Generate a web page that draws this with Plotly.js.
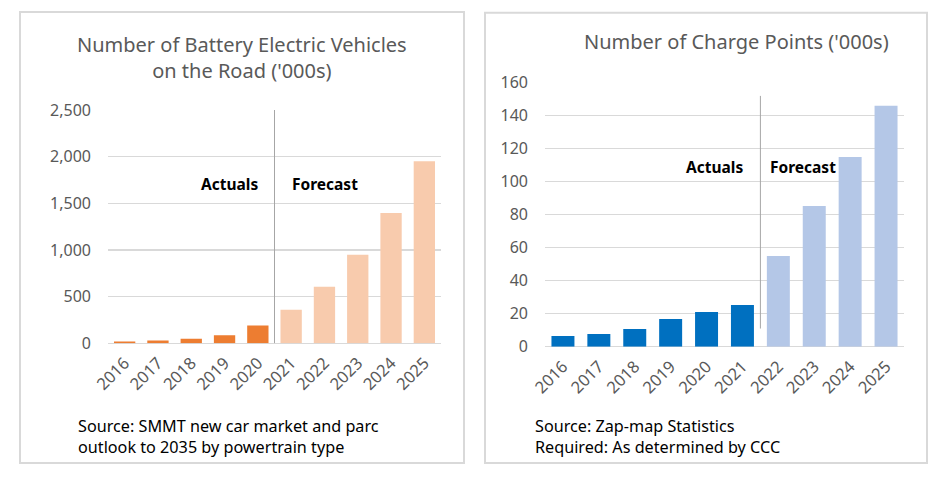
<!DOCTYPE html>
<html>
<head>
<meta charset="utf-8">
<script src="https://cdn.plot.ly/plotly-3.0.1.min.js"></script>
<style>
html,body{margin:0;padding:0;background:#fff;}
#chart{width:949px;height:478px;}
</style>
</head>
<body>
<div id="chart"></div>
<script>
// ---- Data ----
const years = ['2016','2017','2018','2019','2020','2021','2022','2023','2024','2025'];
const bevValues = [20, 30, 50, 85, 190, 360, 605, 950, 1395, 1950];
const bevActualCount = 5;   // 2016-2020 actuals, rest forecast
const chargeValues = [6.5, 7.7, 10.8, 16.8, 21, 25.3, 55, 85.3, 115, 146];
const chargeActualCount = 6; // 2016-2021 actuals, rest forecast
const bevTicks = [0, 500, 1000, 1500, 2000, 2500];
const chargeTicks = [0, 20, 40, 60, 80, 100, 120, 140, 160];

const W = 949, H = 478;
const px = x => x / W;
const py = y => 1 - y / H;

const FONT = '"Noto Sans", "Open Sans", sans-serif';
const GRAY = '#595959';
const GRID = '#d9d9d9';

const bevColors = years.map((_, i) => i < bevActualCount ? '#ED7D31' : '#F8CBAD');
const chargeColors = years.map((_, i) => i < chargeActualCount ? '#0070C0' : '#B4C7E7');

const traces = [
  {type:'bar', x: years, y: bevValues, xaxis:'x', yaxis:'y',
   marker:{color: bevColors, line:{width:0}}, hoverinfo:'x+y'},
  {type:'bar', x: years, y: chargeValues, xaxis:'x2', yaxis:'y2',
   marker:{color: chargeColors, line:{width:0}}, hoverinfo:'x+y'}
];

const axisFont = {family: FONT, size: 16.5, color: GRAY};

const layout = {
  width: W, height: H,
  margin:{l:0, r:0, t:0, b:0},
  paper_bgcolor:'#fff', plot_bgcolor:'rgba(0,0,0,0)',
  showlegend:false,
  bargap: 0.36,
  font:{family: FONT, color: GRAY},
  xaxis:{domain:[px(108), px(441)], type:'category', tickangle:-45,
         tickfont: axisFont, showgrid:false, zeroline:false, showline:false,
         ticks:'', ticklabelstandoff: 6, fixedrange:true, anchor:'y'},
  yaxis:{domain:[py(343.3), py(110)], range:[0, 2500], tickvals: bevTicks,
         tickformat:',', tickfont:{family: FONT, size:16, color: GRAY},
         gridcolor: GRID, gridwidth:1.5, zeroline:true, zerolinecolor: GRID,
         zerolinewidth:1.5, showline:false, ticks:'', ticklabelstandoff: 16,
         fixedrange:true, anchor:'x'},
  xaxis2:{domain:[px(545), px(904)], type:'category', tickangle:-45,
         tickfont: axisFont, showgrid:false, zeroline:false, showline:false,
         ticks:'', ticklabelstandoff: 6, fixedrange:true, anchor:'y2'},
  yaxis2:{domain:[py(346.7), py(82.7)], range:[0, 160], tickvals: chargeTicks,
         tickfont:{family: FONT, size:16, color: GRAY},
         gridcolor: GRID, gridwidth:1.5, zeroline:true, zerolinecolor: GRID,
         zerolinewidth:1.5, showline:false, ticks:'', ticklabelstandoff: 16,
         fixedrange:true, anchor:'x2'},
  shapes:[
    {type:'rect', xref:'paper', yref:'paper', x0:px(20), x1:px(464), y0:py(463), y1:py(12),
     line:{color:GRID, width:2}, layer:'below'},
    {type:'rect', xref:'paper', yref:'paper', x0:px(485), x1:px(927), y0:py(463), y1:py(12.7),
     line:{color:GRID, width:2}, layer:'below'},
    {type:'line', xref:'x', yref:'y', x0:bevActualCount-0.5, x1:bevActualCount-0.5, y0:0, y1:2500,
     line:{color:'#a6a6a6', width:1}},
    {type:'line', xref:'x2', yref:'y2', x0:chargeActualCount-0.5, x1:chargeActualCount-0.5, y0:11, y1:152,
     line:{color:'#a6a6a6', width:1}}
  ],
  annotations:[
    {xref:'paper', yref:'paper', x:px(242), y:py(57), xanchor:'center', yanchor:'middle',
     text:'Number of Battery Electric Vehicles<br>on the Road (\'000s)', showarrow:false,
     font:{family:FONT, size:20, color:GRAY}, align:'center'},
    {xref:'paper', yref:'paper', x:px(736), y:py(42), xanchor:'center', yanchor:'middle',
     text:'Number of Charge Points (\'000s)', showarrow:false,
     font:{family:FONT, size:20, color:GRAY}},
    {xref:'x', yref:'y', x:bevActualCount-0.5, y:1709, xanchor:'right', yanchor:'middle', xshift:-15,
     text:'<b>Actuals</b>', showarrow:false, font:{family:FONT, size:15.5, color:'#000'}},
    {xref:'x', yref:'y', x:bevActualCount-0.5, y:1709, xanchor:'left', yanchor:'middle', xshift:15,
     text:'<b>Forecast</b>', showarrow:false, font:{family:FONT, size:15.5, color:'#000'}},
    {xref:'x2', yref:'y2', x:chargeActualCount-0.5, y:109, xanchor:'right', yanchor:'middle', xshift:-15,
     text:'<b>Actuals</b>', showarrow:false, font:{family:FONT, size:15.5, color:'#000'}},
    {xref:'x2', yref:'y2', x:chargeActualCount-0.5, y:109, xanchor:'left', yanchor:'middle', xshift:8,
     text:'<b>Forecast</b>', showarrow:false, font:{family:FONT, size:15.5, color:'#000'}},
    {xref:'paper', yref:'paper', x:px(76), y:py(436.5), xanchor:'left', yanchor:'middle', align:'left',
     text:'Source: SMMT new car market and parc<br>outlook to 2035 by powertrain type', showarrow:false,
     font:{family:FONT, size:16.2, color:'#000'}},
    {xref:'paper', yref:'paper', x:px(533), y:py(436.5), xanchor:'left', yanchor:'middle', align:'left',
     text:'Source: Zap-map Statistics<br>Required: As determined by CCC', showarrow:false,
     font:{family:FONT, size:16.2, color:'#000'}}
  ]
};

Plotly.newPlot('chart', traces, layout, {displayModeBar:false, staticPlot:true});
</script>
</body>
</html>
